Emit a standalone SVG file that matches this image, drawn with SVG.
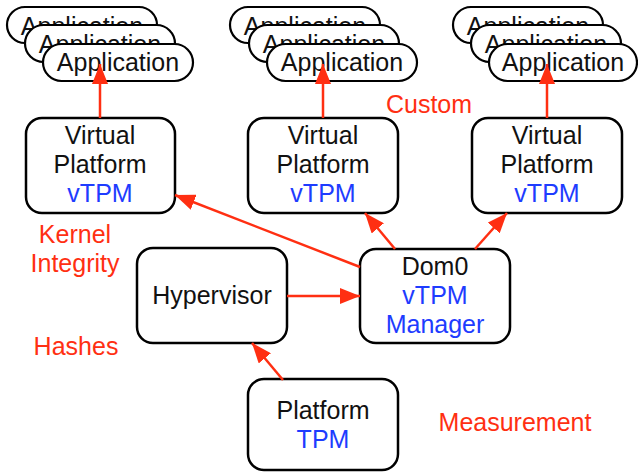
<svg xmlns="http://www.w3.org/2000/svg" width="638" height="472" viewBox="0 0 638 472">
  <style>
    .box { fill: #ffffff; stroke: #000000; stroke-width: 2.5; }
    .pill { fill: #ffffff; stroke: #000000; stroke-width: 2.2; }
    text { font-family: "Liberation Sans", Arial, Helvetica, sans-serif; font-size: 25px; text-anchor: middle; }
    .dark { fill: #111111; }
    .blue { fill: #1e3cff; }
    .red { fill: #ff2f12; }
    .conn { stroke: #ff2f12; stroke-width: 2.5; fill: none; marker-end: url(#head); }
  </style>
  <defs>
    <marker id="head" markerUnits="userSpaceOnUse" markerWidth="20" markerHeight="16" refX="20" refY="8" orient="auto" viewBox="0 0 20 16">
      <path d="M0,0 L20,8 L0,16 z" fill="#ff2f12"/>
    </marker>
  </defs>

  <rect width="638" height="472" fill="#ffffff"/>

  <!-- application stacks: each front pill hides the label of the one behind -->
  <g id="apps-left">
    <rect class="pill" x="7" y="7" width="150" height="36" rx="18"/>
    <text class="dark" x="82" y="35">Application</text>
    <rect class="pill" x="25" y="25" width="150" height="37" rx="18.5"/>
    <text class="dark" x="100" y="53">Application</text>
    <rect class="pill" x="43" y="44" width="150" height="37" rx="18.5"/>
    <text class="dark" x="118" y="71">Application</text>
  </g>
  <g id="apps-middle">
    <rect class="pill" x="230" y="7" width="150" height="36" rx="18"/>
    <text class="dark" x="305" y="35">Application</text>
    <rect class="pill" x="249" y="25" width="150" height="37" rx="18.5"/>
    <text class="dark" x="324" y="53">Application</text>
    <rect class="pill" x="267" y="44" width="150" height="37" rx="18.5"/>
    <text class="dark" x="342" y="71">Application</text>
  </g>
  <g id="apps-right">
    <rect class="pill" x="453" y="7" width="150" height="36" rx="18"/>
    <text class="dark" x="528" y="35">Application</text>
    <rect class="pill" x="471" y="25" width="150" height="37" rx="18.5"/>
    <text class="dark" x="546" y="53">Application</text>
    <rect class="pill" x="489" y="44" width="148" height="37" rx="18.5"/>
    <text class="dark" x="563" y="71">Application</text>
  </g>

  <!-- virtual platforms -->
  <g id="vp-left">
    <rect class="box" x="26" y="118" width="149" height="95" rx="16"/>
    <text class="dark" x="100" y="144">Virtual</text>
    <text class="dark" x="100" y="173">Platform</text>
    <text class="blue" x="100" y="202">vTPM</text>
  </g>
  <g id="vp-middle">
    <rect class="box" x="248" y="118" width="150" height="95" rx="16"/>
    <text class="dark" x="323" y="144">Virtual</text>
    <text class="dark" x="323" y="173">Platform</text>
    <text class="blue" x="323" y="202">vTPM</text>
  </g>
  <g id="vp-right">
    <rect class="box" x="472" y="118" width="150" height="95" rx="16"/>
    <text class="dark" x="547" y="144">Virtual</text>
    <text class="dark" x="547" y="173">Platform</text>
    <text class="blue" x="547" y="202">vTPM</text>
  </g>

  <g id="hypervisor">
    <rect class="box" x="137" y="248" width="150" height="95" rx="16"/>
    <text class="dark" x="212" y="304">Hypervisor</text>
  </g>

  <g id="dom0">
    <rect class="box" x="360" y="249" width="150" height="94" rx="16"/>
    <text class="dark" x="435" y="275">Dom0</text>
    <text class="blue" x="435" y="304">vTPM</text>
    <text class="blue" x="435" y="333">Manager</text>
  </g>

  <g id="platform-tpm">
    <rect class="box" x="248" y="379" width="150" height="91" rx="16"/>
    <text class="dark" x="323" y="419">Platform</text>
    <text class="blue" x="323" y="448">TPM</text>
  </g>

  <!-- measurement flow -->
  <g id="connectors">
    <line class="conn" x1="100" y1="118" x2="100" y2="64"/>
    <line class="conn" x1="323" y1="118" x2="323" y2="64"/>
    <line class="conn" x1="547" y1="118" x2="547" y2="64"/>
    <line class="conn" x1="360" y1="267" x2="175" y2="195"/>
    <line class="conn" x1="395" y1="249" x2="365" y2="213"/>
    <line class="conn" x1="475" y1="249" x2="507" y2="213"/>
    <line class="conn" x1="287" y1="296" x2="360" y2="296"/>
    <line class="conn" x1="283" y1="380" x2="252" y2="343"/>
  </g>

  <g id="labels">
    <text class="red" x="429" y="113">Custom</text>
    <text class="red" x="75" y="243">Kernel</text>
    <text class="red" x="75" y="272">Integrity</text>
    <text class="red" x="76" y="355">Hashes</text>
    <text class="red" x="515" y="431">Measurement</text>
  </g>
</svg>
